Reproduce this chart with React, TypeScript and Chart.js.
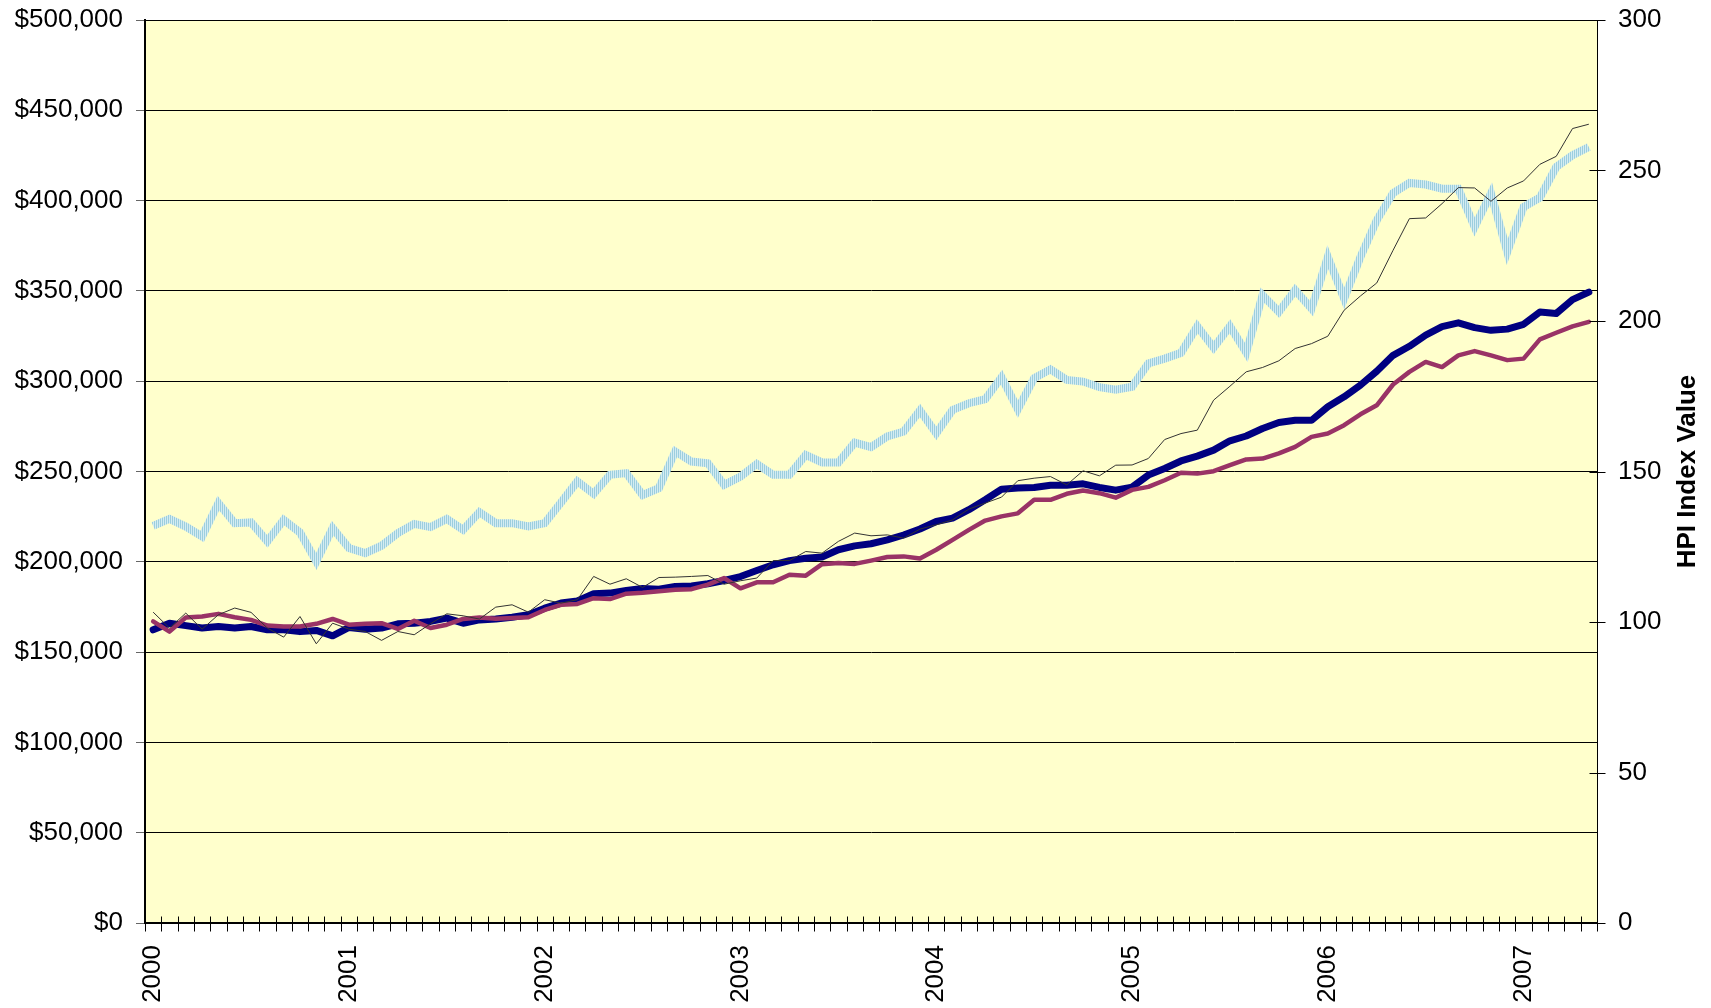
import React, { useEffect, useRef } from 'react';
import { Chart, registerables } from 'chart.js';

Chart.register(...registerables);

// Years shown on the category axis (monthly categories, Jan 2000 - May 2007)
const years = [2000, 2001, 2002, 2003, 2004, 2005, 2006, 2007];
const monthCount = 89;

// Left axis ($): light blue patterned series
const medianPrice = [
  219900, 223800, 219500, 214000, 232500, 221400, 221800, 211300, 223200, 216200,
  200200, 218600, 207600, 204800, 208900, 215900, 221000, 219200, 223800, 217700,
  227500, 221400, 221400, 219600, 221400, 232800, 244500, 237600, 248200, 249100,
  237000, 240800, 261100, 255500, 254600, 242600, 247200, 254200, 248200, 248200,
  259200, 255000, 255000, 266000, 263500, 269400, 272100, 283800, 271200, 284100,
  287800, 290000, 302200, 284500, 301700, 306600, 300700, 299800, 296700, 295300,
  296900, 309800, 312500, 315700, 330400, 318600, 330400, 315900, 347600, 338400,
  350400, 340200, 368800, 345800, 368800, 389100, 404200, 409800, 408900, 406600,
  406600, 385400, 403900, 371600, 396500, 401700, 418600, 425100, 429700,
];

// Left axis ($): thin black series
const averagePrice = [
  172100, 163300, 171600, 162700, 170700, 174400, 172000, 163300, 158300, 169700,
  154600, 166000, 162700, 161400, 156500, 161400, 159600, 165700, 171200, 170100,
  168300, 174900, 176200, 172100, 179000, 177100, 179000, 191900, 187600, 190600,
  185800, 191300, 191500, 191900, 192400, 187600, 189500, 191000, 200700, 200700,
  205700, 204800, 211300, 215900, 214400, 214900, 213100, 218100, 220500, 223200,
  229200, 232500, 235800, 244900, 246300, 247200, 242600, 250400, 247600, 253500,
  253600, 257200, 267700, 271000, 272900, 289500, 297200, 305200, 307600, 311300,
  318100, 320800, 324900, 339300, 347200, 354400, 372500, 390000, 390400, 398300,
  407200, 407000, 399600, 407000, 410900, 420100, 424500, 439900, 442300,
];

// Right axis (HPI index): thick navy series
const hpiNavy = [
  97.4, 99.6, 98.8, 98.0, 98.5, 98.0, 98.5, 97.4, 97.4, 96.8,
  97.2, 95.4, 98.2, 97.6, 98.0, 99.4, 99.6, 100.2, 101.3, 99.6,
  100.7, 101.0, 101.6, 102.4, 104.6, 106.3, 107.0, 109.4, 109.6, 110.5,
  111.1, 110.9, 111.8, 112.0, 112.7, 113.8, 115.1, 117.1, 119.0, 120.4,
  121.2, 121.6, 124.0, 125.3, 126.0, 127.3, 128.9, 130.9, 133.4, 134.5,
  137.3, 140.6, 144.1, 144.5, 144.7, 145.4, 145.4, 145.9, 144.7, 143.8,
  144.8, 148.8, 151.0, 153.5, 155.1, 157.1, 160.2, 161.8, 164.3, 166.3,
  167.0, 167.0, 171.5, 174.8, 178.7, 183.3, 188.6, 191.6, 195.3, 198.1,
  199.4, 197.8, 196.9, 197.3, 198.9, 203.0, 202.5, 207.1, 209.6,
];

// Right axis (HPI index): maroon series
const hpiMaroon = [
  100.2, 96.8, 101.5, 101.8, 102.7, 101.6, 100.7, 98.8, 98.5, 98.5,
  99.4, 101.0, 99.1, 99.4, 99.6, 97.7, 100.4, 98.0, 99.1, 101.0,
  101.5, 101.1, 101.3, 101.6, 104.0, 105.7, 106.0, 107.9, 107.6, 109.4,
  109.7, 110.2, 110.7, 110.9, 112.4, 114.6, 111.2, 113.2, 113.2, 115.7,
  115.4, 119.2, 119.6, 119.3, 120.4, 121.6, 121.8, 121.1, 124.0, 127.3,
  130.6, 133.7, 135.1, 136.1, 140.6, 140.6, 142.6, 143.7, 142.8, 141.3,
  143.9, 144.9, 147.1, 149.6, 149.3, 150.1, 152.1, 154.0, 154.3, 156.0,
  158.2, 161.5, 162.6, 165.4, 169.0, 172.0, 178.9, 183.1, 186.4, 184.7,
  188.6, 190.0, 188.6, 187.0, 187.5, 193.9, 196.1, 198.2, 199.7,
];

const rightAxisTitle = 'HPI Index Value';
const FONT = '"Liberation Sans", Arial, Helvetica, sans-serif';

function buildLabels(): string[] {
  const out: string[] = [];
  for (let i = 0; i < monthCount; i++) {
    const y = years[Math.floor(i / 12)];
    const m = (i % 12) + 1;
    out.push(`${y}-${m < 10 ? '0' + m : m}`);
  }
  return out;
}

function makeStripePattern(): CanvasPattern | string {
  const c = document.createElement('canvas');
  c.width = 2;
  c.height = 1;
  const g = c.getContext('2d');
  if (!g) return '#a6d4e2';
  g.fillStyle = 'rgb(156,206,222)';
  g.fillRect(0, 0, 1, 1);
  g.fillStyle = 'rgb(212,236,242)';
  g.fillRect(1, 0, 1, 1);
  return g.createPattern(c, 'repeat') || '#a6d4e2';
}

const bgPlugin = {
  id: 'bgPlugin',
  beforeDraw(chart: any) {
    const { ctx, chartArea } = chart;
    ctx.save();
    ctx.fillStyle = '#ffffff';
    ctx.fillRect(0, 0, chart.width, chart.height);
    ctx.fillStyle = '#FFFFCC';
    ctx.fillRect(chartArea.left, chartArea.top, chartArea.right - chartArea.left, chartArea.bottom - chartArea.top);
    ctx.restore();
  },
};

const ticksPlugin = {
  id: 'ticksPlugin',
  afterDraw(chart: any) {
    const { ctx } = chart;
    const xs = chart.scales.x;
    const yr = chart.scales.yR;
    ctx.save();
    ctx.strokeStyle = '#000';
    ctx.lineWidth = 1;
    // category boundaries (cross ticks)
    const step = xs.getPixelForValue(1) - xs.getPixelForValue(0);
    const axisY = Math.round(xs.top) + 0.5;
    for (let b = 0; b <= monthCount; b++) {
      const px = Math.round(xs.getPixelForValue(b) - step / 2) + 0.5;
      ctx.beginPath();
      ctx.moveTo(px, axisY - 7);
      ctx.lineTo(px, axisY + 8);
      ctx.stroke();
    }
    // right axis cross ticks
    const axisX = Math.round(yr.left) + 0.5;
    yr.ticks.forEach((t: any) => {
      const py = Math.round(yr.getPixelForValue(t.value)) + 0.5;
      ctx.beginPath();
      ctx.moveTo(axisX - 8, py);
      ctx.lineTo(axisX + 8, py);
      ctx.stroke();
    });
    // right axis title (reads bottom to top)
    ctx.translate(yr.right - 23, (chart.chartArea.top + chart.chartArea.bottom) / 2);
    ctx.rotate(-Math.PI / 2);
    ctx.fillStyle = '#000';
    ctx.font = `bold 26px ${FONT}`;
    ctx.textAlign = 'center';
    ctx.textBaseline = 'middle';
    ctx.fillText(rightAxisTitle, 0, 0);
    ctx.restore();
  },
};

export default function App() {
  const ref = useRef<HTMLCanvasElement | null>(null);

  useEffect(() => {
    const canvas = ref.current;
    if (!canvas) return;
    const labels = buildLabels();
    const chart = new Chart(canvas, {
      type: 'line',
      data: {
        labels,
        datasets: [
          {
            label: 'Average Price',
            data: averagePrice,
            yAxisID: 'yL',
            borderColor: '#333333',
            borderWidth: 1,
            pointRadius: 0,
            tension: 0,
          },
          {
            label: 'HPI (maroon)',
            data: hpiMaroon,
            yAxisID: 'yR',
            borderColor: '#993366',
            borderWidth: 4.5,
            pointRadius: 0,
            tension: 0,
            borderJoinStyle: 'round',
            borderCapStyle: 'round',
          },
          {
            label: 'HPI (navy)',
            data: hpiNavy,
            yAxisID: 'yR',
            borderColor: '#000080',
            borderWidth: 7,
            pointRadius: 0,
            tension: 0,
            borderJoinStyle: 'round',
            borderCapStyle: 'round',
          },
          {
            label: 'Median Price',
            data: medianPrice,
            yAxisID: 'yL',
            borderColor: makeStripePattern() as any,
            borderWidth: 8,
            pointRadius: 0,
            tension: 0,
            borderJoinStyle: 'miter',
          },
        ],
      },
      options: {
        responsive: false,
        maintainAspectRatio: false,
        animation: false,
        devicePixelRatio: 1,
        layout: { padding: { top: 20, left: 0, right: 0, bottom: 0 } },
        plugins: {
          legend: { display: false },
          title: { display: false },
          tooltip: { enabled: false },
        },
        scales: {
          x: {
            type: 'category',
            offset: true,
            grid: { display: true, drawOnChartArea: false, drawTicks: false, offset: true },
            border: { display: true, color: '#000', width: 2 },
            ticks: {
              autoSkip: false,
              maxRotation: 90,
              minRotation: 90,
              padding: 22,
              color: '#000',
              font: { family: FONT, size: 26 },
              callback: (_v: any, i: number) => (i % 12 === 0 ? String(years[i / 12]) : ''),
            },
            afterFit: (s: any) => {
              s.height = 85;
              s.paddingLeft = 0;
              s.paddingRight = 0;
            },
          },
          yL: {
            type: 'linear',
            position: 'left',
            min: 0,
            max: 500000,
            grid: { color: '#000', lineWidth: 1, tickLength: 9, tickColor: '#666' },
            border: { display: true, color: '#000', width: 2 },
            ticks: {
              stepSize: 50000,
              padding: 13,
              color: '#000',
              font: { family: FONT, size: 26 },
              callback: (v: any) => '$' + Number(v).toLocaleString('en-US'),
            },
            afterFit: (s: any) => {
              s.width = 145;
              s.paddingTop = 0;
              s.paddingBottom = 0;
            },
          },
          yR: {
            type: 'linear',
            position: 'right',
            min: 0,
            max: 300,
            grid: { display: true, drawOnChartArea: false, drawTicks: false },
            border: { display: true, color: '#000', width: 1 },
            ticks: {
              stepSize: 50,
              padding: 21,
              color: '#000',
              font: { family: FONT, size: 26 },
            },
            afterFit: (s: any) => {
              s.width = 114;
              s.paddingTop = 0;
              s.paddingBottom = 0;
            },
          },
        },
      },
      plugins: [bgPlugin, ticksPlugin],
    });
    return () => chart.destroy();
  }, []);

  return (
    <div style={{ position: 'fixed', left: 0, top: 0, width: 1711, height: 1008, background: '#fff' }}>
      <canvas ref={ref} width={1711} height={1008} style={{ display: 'block', width: 1711, height: 1008 }} />
    </div>
  );
}
